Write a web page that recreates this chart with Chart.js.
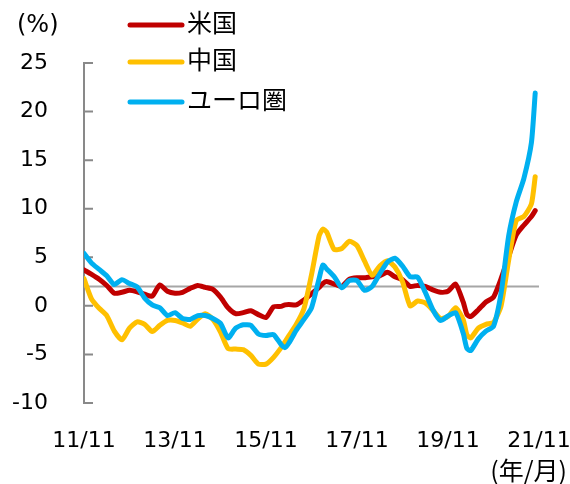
<!DOCTYPE html>
<html>
<head>
<meta charset="utf-8">
<script src="https://cdn.jsdelivr.net/npm/chart.js@4.4.1/dist/chart.umd.min.js"></script>
<style>
    html, body { margin: 0; padding: 0; background: #fff; }
</style>
</head>
<body>
<canvas id="myChart" width="570" height="484"></canvas>
<script>
// Data (months counted from 2011/11)

const months = [0, 2, 4, 6, 8, 10, 12, 14, 16, 18, 20, 22, 24, 26, 28, 30, 32, 34, 36, 38, 40, 42, 44, 46, 48, 50, 52, 53,
    54, 56, 58, 60, 62, 63, 64, 66, 68, 70, 72, 74, 76, 78, 80, 82, 84, 86, 88, 90, 92, 94, 96, 98, 100, 101,
    102, 104, 106, 108, 110, 112, 114, 116, 118, 119];

const us = [3.7, 3.25, 2.75, 2.1, 1.3, 1.4, 1.6, 1.45, 1.2, 1.0, 2.15, 1.5, 1.3, 1.4, 1.8, 2.1, 1.9, 1.7, 0.9, -0.2,
    -0.8, -0.7, -0.5, -0.9, -1.2, -0.1, -0.05, 0.1,
    0.15, 0.1, 0.6, 1.25, 1.9, 2.3,
    2.5, 2.25, 2.0, 2.75, 2.9, 2.9, 3.0, 3.1, 3.45, 3.0, 2.7, 2.0, 2.1, 2.0, 1.65, 1.4, 1.5, 2.25, 0.4, -0.9,
    -1.1, -0.4, 0.4, 0.9, 2.8, 5.1, 7.3, 8.3, 9.2, 9.8];

const china = [2.8, 0.7, -0.25, -1.0, -2.6, -3.5, -2.3, -1.65, -1.9, -2.65, -2.0, -1.5, -1.5, -1.75, -2.1, -1.35, -0.8, -1.4, -2.7, -4.4,
    -4.45, -4.5, -5.1, -6.0, -6.0, -5.3, -4.3, -3.7,
    -3.1, -1.9, -0.3, 3.2, 7.2, 7.9,
    7.6, 5.8, 5.9, 6.65, 6.2, 4.6, 3.15, 4.1, 4.65, 4.0, 2.5, 0.0, 0.5, 0.3, -0.45, -1.3, -1.1, -0.2, -1.4, -3.0,
    -3.3, -2.3, -1.9, -1.7, 0.0, 4.7, 8.8, 9.2, 10.5, 13.3];

const euro = [5.4, 4.4, 3.75, 3.1, 2.2, 2.7, 2.3, 1.95, 0.8, 0.1, -0.2, -1.0, -0.7, -1.3, -1.4, -1.0, -1.0, -1.3, -1.8, -3.3,
    -2.3, -1.95, -2.0, -2.9, -3.05, -2.95, -4.0, -4.3,
    -3.85, -2.5, -1.4, -0.2, 2.8, 4.2,
    3.8, 3.0, 1.85, 2.6, 2.6, 1.6, 2.0, 3.3, 4.5, 4.9, 4.1, 3.0, 2.95, 1.4, -0.4, -1.5, -1.05, -0.7, -2.8, -4.4,
    -4.6, -3.4, -2.6, -2.1, 1.3, 7.2, 10.7, 13.1, 16.8, 21.9];

const seriesNames = ["米国", "中国", "ユーロ圏"];
const tickLabels = ["11/11", "13/11", "15/11", "17/11", "19/11", "21/11"];
const referenceLevel = 2;

const toPoints = (values) => values.map((v, i) => ({ x: months[i], y: v }));

// Setup

const tickFont = { family: "'DejaVu Sans', sans-serif", size: 22 };
const cjkFont = "'Noto Sans CJK JP', sans-serif";

const line = (label, values, color, order) => ({
    label,
    data: toPoints(values),
    borderColor: color,
    backgroundColor: color,
    borderWidth: 5,
    pointRadius: 0,
    tension: 0.2,
    borderJoinStyle: "round",
    borderCapStyle: "round",
    order
});

const data = {
    datasets: [
        line(seriesNames[0], us, "#C00000", 3),
        line(seriesNames[1], china, "#FFC000", 2),
        line(seriesNames[2], euro, "#00B0F0", 1),
    ],
};

// Reference line, inner ticks, legend and unit labels

const decorations = {
    id: "decorations",
    beforeDatasetsDraw(chart) {
        const { ctx, chartArea: a, scales: { y } } = chart;
        const ry = y.getPixelForValue(referenceLevel);
        ctx.save();
        ctx.lineWidth = 2;
        ctx.strokeStyle = "#a6a6a6";
        ctx.beginPath();
        ctx.moveTo(a.left, ry);
        ctx.lineTo(a.right, ry);
        ctx.stroke();

        ctx.strokeStyle = "#898989";
        ctx.beginPath();
        for (const t of y.ticks) {
            const p = y.getPixelForValue(t.value);
            ctx.moveTo(a.left, p);
            ctx.lineTo(a.left + 9, p);
        }
        ctx.stroke();
        ctx.restore();
    },
    afterDraw(chart) {
        const { ctx } = chart;
        const rows = [25, 62, 102];
        ctx.save();
        ctx.lineCap = "round";
        ctx.lineWidth = 5;
        ctx.font = `25px ${cjkFont}`;
        ctx.textBaseline = "middle";
        ctx.fillStyle = "#000";
        chart.data.datasets.forEach((ds, i) => {
            ctx.strokeStyle = ds.borderColor;
            ctx.beginPath();
            ctx.moveTo(130, rows[i]);
            ctx.lineTo(182, rows[i]);
            ctx.stroke();
            ctx.fillText(ds.label, 187, rows[i] - 3);
        });

        ctx.font = `24px ${tickFont.family}`;
        ctx.textAlign = "left";
        ctx.fillText("(%)", 17, 26);
        ctx.font = `25px ${cjkFont}`;
        ctx.textAlign = "right";
        ctx.fillText("(年/月)", 567, 470);
        ctx.restore();
    }
};

// Config

const config = {
    type: "line",
    data,
    options: {
        responsive: false,
        animation: false,
        layout: {
            padding: { top: 63, right: 31, bottom: 0, left: 0 }
        },
        plugins: {
            legend: { display: false },
            tooltip: { enabled: false }
        },
        scales: {
            x: {
                type: "linear",
                min: 0,
                max: 120,
                grid: { display: false },
                border: { display: false },
                afterBuildTicks: (scale) => {
                    scale.ticks = tickLabels.map((_, i) => ({ value: i * 24 }));
                },
                afterFit: (scale) => {
                    scale.height = 81;
                    scale.paddingLeft = 0;
                    scale.paddingRight = 0;
                },
                ticks: {
                    color: "#000",
                    font: tickFont,
                    padding: 17,
                    maxRotation: 0,
                    autoSkip: false,
                    callback: (value) => tickLabels[Math.round(value / 24)]
                }
            },
            y: {
                min: -10,
                max: 25,
                grid: { display: false, drawTicks: false },
                border: { display: true, color: "#898989", width: 2 },
                afterFit: (scale) => { scale.width = 84; },
                ticks: {
                    stepSize: 5,
                    color: "#000",
                    font: tickFont,
                    padding: 36
                }
            }
        }
    },
    plugins: [decorations]
};

// Render init block

const myChart = new Chart(document.getElementById("myChart"), config);
</script>
</body>
</html>
